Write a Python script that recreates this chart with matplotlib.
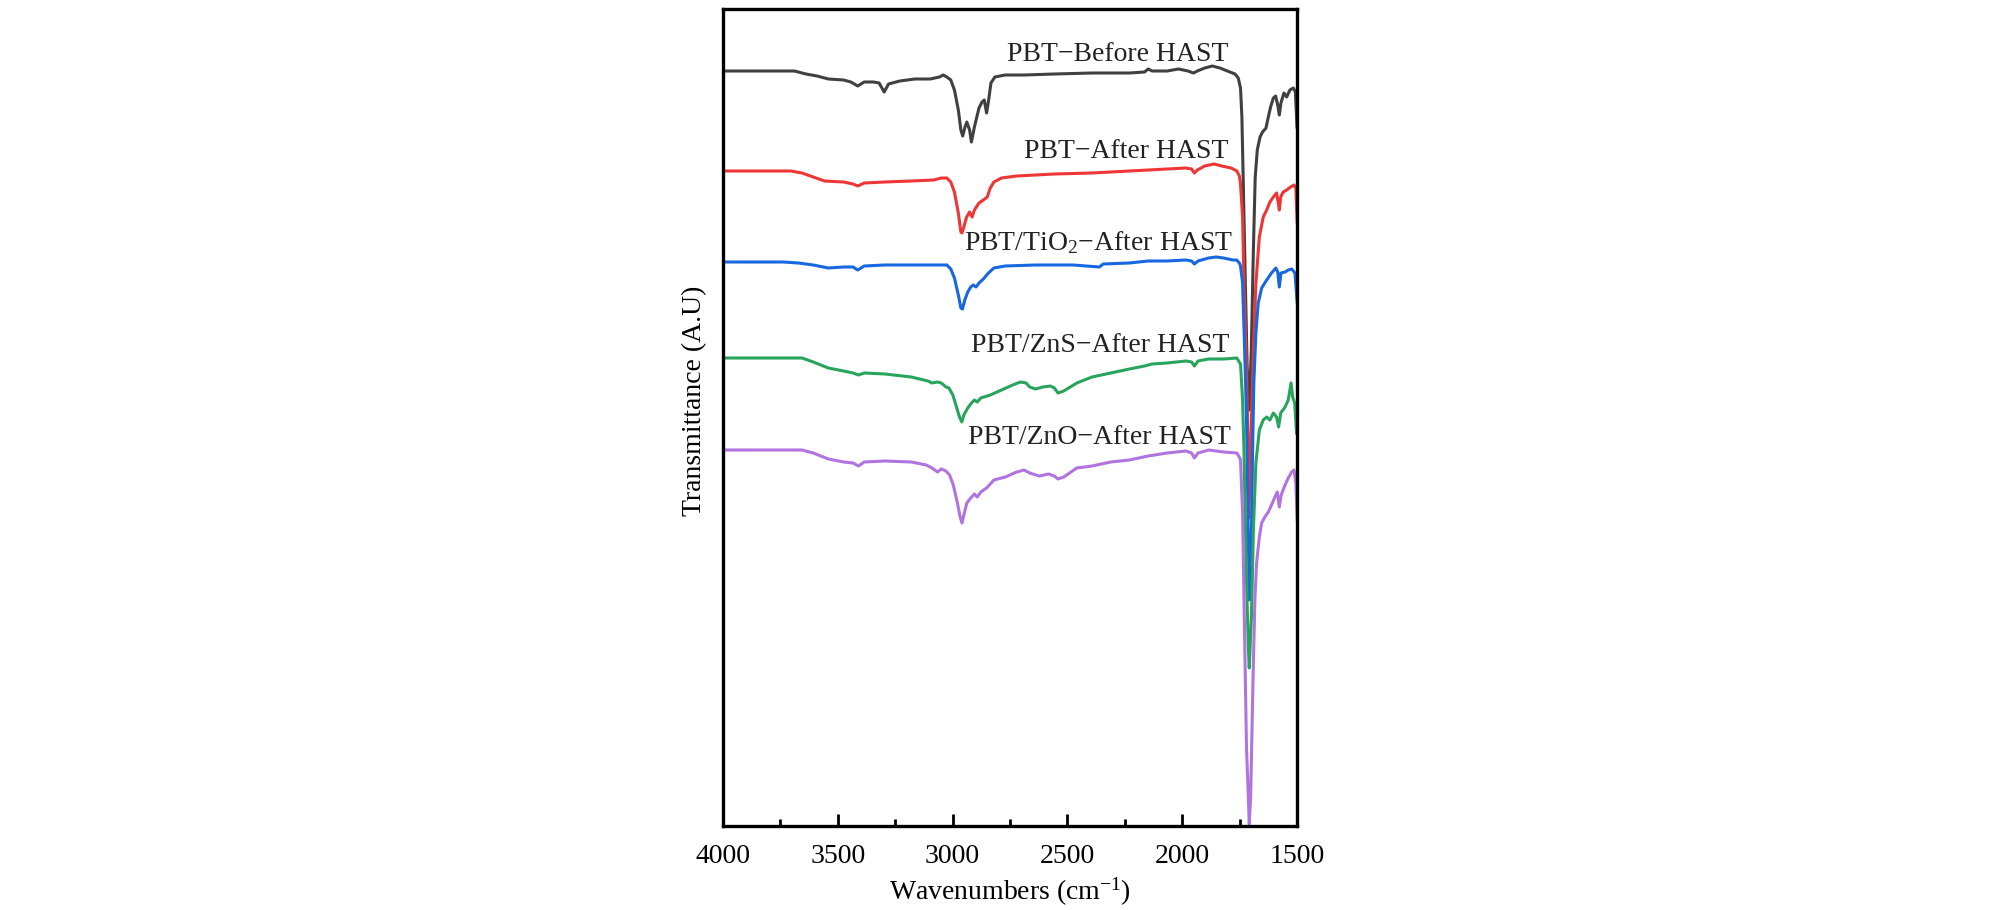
import matplotlib
matplotlib.use("Agg")
import matplotlib.pyplot as plt
from matplotlib.ticker import MultipleLocator

plt.rcParams['font.family'] = ['Liberation Serif', 'DejaVu Serif']
plt.rcParams['mathtext.fontset'] = 'custom'
plt.rcParams['mathtext.rm'] = 'Liberation Serif'
plt.rcParams['mathtext.it'] = 'Liberation Serif:italic'

# FTIR spectra (wavenumber in cm-1, transmittance in A.U.)

wn_before = [4000, 3689, 3639, 3590, 3541, 3475, 3443, 3413, 3385, 3344, 3320, 3298, 3279, 3230,
             3164, 3098, 3057, 3041, 3025, 3008, 2992, 2975, 2964, 2956, 2946, 2938, 2926, 2918,
             2905, 2885, 2872, 2862, 2852, 2843, 2833, 2816, 2771, 2689, 2557, 2394, 2230, 2164,
             2148, 2131, 2066, 2016, 1975, 1951, 1934, 1902, 1869, 1836, 1803, 1770, 1756, 1746,
             1740, 1734, 1725, 1717, 1708, 1699, 1690, 1682, 1673, 1661, 1650, 1635, 1625, 1615,
             1603, 1593, 1584, 1577, 1570, 1557, 1545, 1531, 1516, 1507, 1500]
t_before = [755, 755, 752, 750, 747, 746, 744, 740, 744, 744, 743, 734, 742, 745,
            747, 747, 749, 751, 749, 746, 736, 716, 696, 690, 699, 704, 696, 684,
            699, 718, 724, 726, 713, 726, 743, 749, 751, 751, 752, 753, 753, 754,
            757, 755, 755, 757, 755, 753, 755, 758, 760, 758, 755, 752, 748, 738,
            709, 643, 543, 459, 416, 476, 576, 649, 676, 689, 694, 698, 709, 719,
            728, 730, 721, 711, 723, 733, 729, 736, 738, 734, 699]

wn_after = [4000, 3705, 3656, 3607, 3557, 3475, 3434, 3413, 3385, 3295, 3180, 3082, 3049, 3025,
            3008, 2992, 2975, 2964, 2959, 2951, 2939, 2926, 2915, 2905, 2885, 2866, 2849, 2836,
            2820, 2787, 2721, 2557, 2394, 2230, 2066, 1984, 1959, 1947, 1934, 1902, 1861, 1828,
            1787, 1762, 1751, 1746, 1737, 1731, 1722, 1714, 1710, 1698, 1690, 1679, 1664, 1647,
            1632, 1618, 1603, 1589, 1582, 1577, 1571, 1560, 1545, 1528, 1513, 1505, 1499]
t_after = [655, 655, 653, 649, 645, 644, 642, 640, 643, 644, 645, 646, 648, 648,
           644, 634, 613, 594, 593, 599, 609, 614, 609, 616, 623, 626, 629, 638,
           644, 648, 650, 652, 653, 655, 657, 658, 657, 653, 656, 660, 662, 660,
           658, 655, 650, 642, 609, 543, 476, 393, 308, 409, 476, 543, 589, 609,
           616, 624, 629, 633, 624, 616, 629, 634, 636, 639, 641, 638, 603]

wn_tio2 = [4000, 3738, 3672, 3607, 3541, 3475, 3434, 3413, 3385, 3295, 3131, 3049, 3025, 3008,
           2992, 2975, 2964, 2957, 2947, 2934, 2921, 2910, 2898, 2885, 2866, 2844, 2820, 2771,
           2639, 2475, 2361, 2344, 2230, 2148, 2066, 1984, 1959, 1947, 1931, 1885, 1852, 1820,
           1779, 1763, 1751, 1746, 1737, 1728, 1720, 1714, 1708, 1703, 1698, 1693, 1688, 1679,
           1669, 1654, 1632, 1611, 1592, 1584, 1577, 1570, 1552, 1538, 1523, 1509, 1499]
t_tio2 = [564, 564, 563, 561, 558, 559, 559, 556, 560, 561, 561, 561, 561, 557,
          548, 531, 518, 517, 526, 534, 539, 541, 539, 543, 547, 553, 558, 560,
          561, 561, 559, 562, 563, 565, 565, 566, 565, 562, 565, 568, 569, 568,
          566, 566, 563, 560, 543, 476, 409, 320, 226, 262, 300, 380, 443, 493,
          523, 538, 546, 553, 558, 554, 539, 553, 554, 556, 557, 553, 523]

wn_zns = [4000, 3656, 3607, 3541, 3475, 3434, 3410, 3385, 3295, 3180, 3107, 3090, 3066, 3049,
          3029, 3016, 2999, 2983, 2970, 2960, 2951, 2934, 2918, 2905, 2893, 2877, 2836, 2787,
          2738, 2705, 2680, 2664, 2639, 2607, 2574, 2557, 2541, 2516, 2459, 2393, 2311, 2230,
          2164, 2131, 2066, 1984, 1959, 1947, 1931, 1885, 1820, 1762, 1749, 1746, 1737, 1731,
          1727, 1720, 1712, 1708, 1698, 1690, 1679, 1664, 1647, 1632, 1618, 1603, 1589, 1580,
          1571, 1552, 1538, 1526, 1519, 1510, 1502]
t_zns = [468, 468, 464, 458, 455, 453, 451, 453, 452, 449, 445, 443, 444, 443,
         439, 438, 431, 419, 409, 404, 411, 418, 423, 426, 424, 428, 431, 436,
         441, 444, 443, 439, 437, 439, 440, 438, 433, 435, 443, 449, 453, 457,
         460, 462, 463, 465, 464, 460, 465, 467, 467, 468, 463, 462, 426, 376,
         329, 246, 179, 158, 213, 296, 363, 396, 406, 409, 406, 413, 409, 399,
         413, 419, 426, 443, 429, 423, 393]

wn_zno = [4000, 3656, 3607, 3541, 3475, 3434, 3410, 3385, 3295, 3180, 3115, 3090, 3066, 3049,
          3029, 3013, 2997, 2980, 2967, 2959, 2951, 2938, 2921, 2905, 2893, 2877, 2852, 2820,
          2770, 2721, 2689, 2664, 2623, 2582, 2557, 2541, 2516, 2459, 2393, 2311, 2230, 2148,
          2066, 1984, 1959, 1947, 1931, 1885, 1820, 1762, 1749, 1746, 1737, 1731, 1725, 1720,
          1712, 1708, 1702, 1696, 1690, 1683, 1676, 1664, 1654, 1640, 1625, 1611, 1596, 1586,
          1577, 1569, 1552, 1538, 1523, 1513, 1505, 1499]
t_zno = [376, 376, 373, 367, 364, 363, 360, 364, 365, 364, 361, 358, 354, 357,
         355, 351, 341, 324, 309, 303, 311, 323, 328, 332, 329, 334, 338, 346,
         349, 354, 356, 353, 350, 352, 350, 347, 349, 358, 360, 364, 366, 370,
         373, 375, 373, 368, 373, 376, 374, 373, 368, 366, 313, 229, 146, 79,
         29, 2, 29, 96, 163, 229, 263, 289, 303, 309, 314, 321, 329, 334,
         319, 331, 341, 348, 354, 356, 343, 306]

labels = ["PBT\u2212Before HAST", "PBT\u2212After HAST", "PBT/TiO$_2$\u2212After HAST",
          "PBT/ZnS\u2212After HAST", "PBT/ZnO\u2212After HAST"]
label_x = [1797, 1800, 1779, 1795, 1790]
label_y = [772, 675, 583, 480, 389]
colors = ["#404040", "#EE3636", "#1767E0", "#28A45C", "#B073E0"]

series = [(wn_before, t_before), (wn_after, t_after), (wn_tio2, t_tio2),
          (wn_zns, t_zns), (wn_zno, t_zno)]

fig = plt.figure(figsize=(20.08, 9.10), dpi=100)
ax = fig.add_axes([723/2008, 84/910, 574/2008, 817/910])

for (wn, t), c in zip(series, colors):
    ax.plot(wn, t, color=c, linewidth=2.2, solid_joinstyle='round')

for lab, lx, ly in zip(labels, label_x, label_y):
    ax.text(lx, ly, lab, ha='right', va='center', fontsize=20, color='#222222')

ax.set_xlim(4000, 1500)
ax.set_ylim(0, 817)
ax.set_yticks([])
ax.xaxis.set_major_locator(MultipleLocator(500))
ax.xaxis.set_minor_locator(MultipleLocator(250))
ax.tick_params(axis='x', which='major', direction='in', length=9, width=2,
               labelsize=20, pad=13, top=False)
ax.tick_params(axis='x', which='minor', direction='in', length=5, width=2, top=False)
for sp in ax.spines.values():
    sp.set_linewidth(2.4)

ax.set_xlabel("Wavenumbers (cm$^{-1}$)", fontsize=20, labelpad=5)
ax.set_ylabel("Transmittance (A.U)", fontsize=20)
ax.yaxis.set_label_coords(-0.027, 0.521)

fig.savefig("out.png", dpi=100)
